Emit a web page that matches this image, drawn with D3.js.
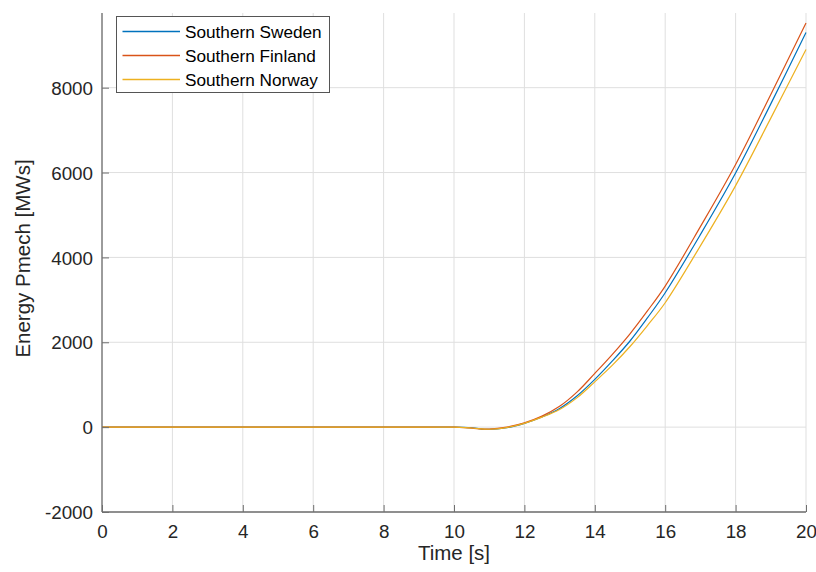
<!DOCTYPE html>
<html>
<head>
<meta charset="utf-8">
<script src="https://cdn.jsdelivr.net/npm/d3@7"></script>
<style>
  html, body { margin: 0; padding: 0; background: #fff; }
  svg { display: block; font-family: "Liberation Sans", Arial, sans-serif; }
</style>
</head>
<body>
<svg id="chart" width="816" height="572"></svg>
<script>
// ---- data ----
const time    = [0, 1, 2, 3, 4, 5, 6, 7, 8, 9, 10, 10.5, 11, 11.5, 12, 12.5, 13, 13.5, 14, 14.5, 15, 15.5, 16, 17, 18, 19, 20];
const sweden  = [0, 0, 0, 0, 0, 0, 0, 0, 0, 0, 0, -15, -55, -15, 90, 240, 440, 740, 1125, 1560, 2030, 2580, 3168, 4538, 5988, 7618, 9300];
const finland = [0, 0, 0, 0, 0, 0, 0, 0, 0, 0, 0, -25, -45, 0, 100, 260, 490, 830, 1266, 1716, 2200, 2745, 3325, 4725, 6190, 7840, 9525];
const norway  = [0, 0, 0, 0, 0, 0, 0, 0, 0, 0, 0, -20, -50, -10, 90, 235, 415, 695, 1068, 1460, 1900, 2400, 2932, 4272, 5692, 7282, 8902];
const seriesNames = ["Southern Sweden", "Southern Finland", "Southern Norway"];
const seriesValues = [sweden, finland, norway];
const seriesColors = ["#0072BD", "#D95319", "#EDB120"];
const xTicks = [0, 2, 4, 6, 8, 10, 12, 14, 16, 18, 20];
const yTicks = [-2000, 0, 2000, 4000, 6000, 8000];
const xLabel = "Time [s]";
const yLabel = "Energy Pmech [MWs]";

// ---- layout ----
const svg = d3.select("#chart");
const L = 102, R = 806, T = 13, B = 512;
const x = d3.scaleLinear().domain([0, 20]).range([L, R]);
const y = d3.scaleLinear().domain([-2000, 9760]).range([B, T]);

// grid
const grid = svg.append("g");
grid.selectAll("line.vx").data(xTicks).join("line")
  .attr("x1", d => x(d)).attr("x2", d => x(d))
  .attr("y1", T).attr("y2", B)
  .attr("stroke", "#dfdfdf").attr("stroke-width", 1);
grid.selectAll("line.hy").data(yTicks).join("line")
  .attr("x1", L).attr("x2", R)
  .attr("y1", d => y(d)).attr("y2", d => y(d))
  .attr("stroke", "#dfdfdf").attr("stroke-width", 1);

// lines
const line = d3.line().curve(d3.curveCatmullRom.alpha(0.5));
seriesValues.forEach((vals, i) => {
  svg.append("path")
    .attr("d", line(time.map((t, k) => [x(t), y(vals[k])])))
    .attr("fill", "none")
    .attr("stroke", seriesColors[i])
    .attr("stroke-width", 1.2);
});

// axes
const axisColor = "#262626";
const fmt = d => String(d);
const xAxis = d3.axisBottom(x).tickValues(xTicks).tickFormat(fmt).tickSizeInner(-7).tickSizeOuter(0).tickPadding(12);
const yAxis = d3.axisLeft(y).tickValues(yTicks).tickFormat(fmt).tickSizeInner(-7).tickSizeOuter(0).tickPadding(15);

const gx = svg.append("g").attr("transform", `translate(0,${B})`).call(xAxis);
const gy = svg.append("g").attr("transform", `translate(${L},0)`).call(yAxis);
[gx, gy].forEach(g => {
  g.select(".domain").attr("stroke", "#6f6f6f").attr("stroke-width", 1.3);
  g.selectAll(".tick line").attr("stroke", "#6f6f6f").attr("stroke-width", 1);
  g.selectAll(".tick text").attr("fill", axisColor)
    .style("font-family", '"Liberation Sans", Arial, sans-serif').style("font-size", "18.8px");
});
gy.select(".domain").attr("d", `M0,${T}V${B}`);
gx.select(".domain").attr("d", `M${L},0H${R}`);
gx.selectAll(".tick text").attr("dy", "0.71em").attr("y", 13);
gy.selectAll(".tick text").attr("x", -9).attr("dy", "0.35em");

// axis labels
svg.append("text")
  .attr("x", (L + R) / 2).attr("y", 560)
  .attr("text-anchor", "middle")
  .attr("fill", axisColor)
  .style("font-size", "20.5px")
  .text(xLabel);
svg.append("text")
  .attr("transform", `translate(30,${(T + B) / 2 - 4}) rotate(-90)`)
  .attr("text-anchor", "middle")
  .attr("fill", axisColor)
  .style("font-size", "20.5px")
  .text(yLabel);

// legend
const lg = svg.append("g");
lg.append("rect")
  .attr("x", 116.5).attr("y", 16.5).attr("width", 213).attr("height", 76)
  .attr("fill", "#fff").attr("stroke", "#555").attr("stroke-width", 1);
const rowsY = [31.5, 55.5, 79.5];
seriesNames.forEach((name, i) => {
  lg.append("line")
    .attr("x1", 122.5).attr("x2", 180)
    .attr("y1", rowsY[i]).attr("y2", rowsY[i])
    .attr("stroke", seriesColors[i]).attr("stroke-width", 1.3);
  lg.append("text")
    .attr("x", 185).attr("y", rowsY[i]).attr("dy", "0.35em")
    .attr("fill", "#000")
    .style("font-size", "17.2px")
    .text(name);
});
</script>
</body>
</html>
